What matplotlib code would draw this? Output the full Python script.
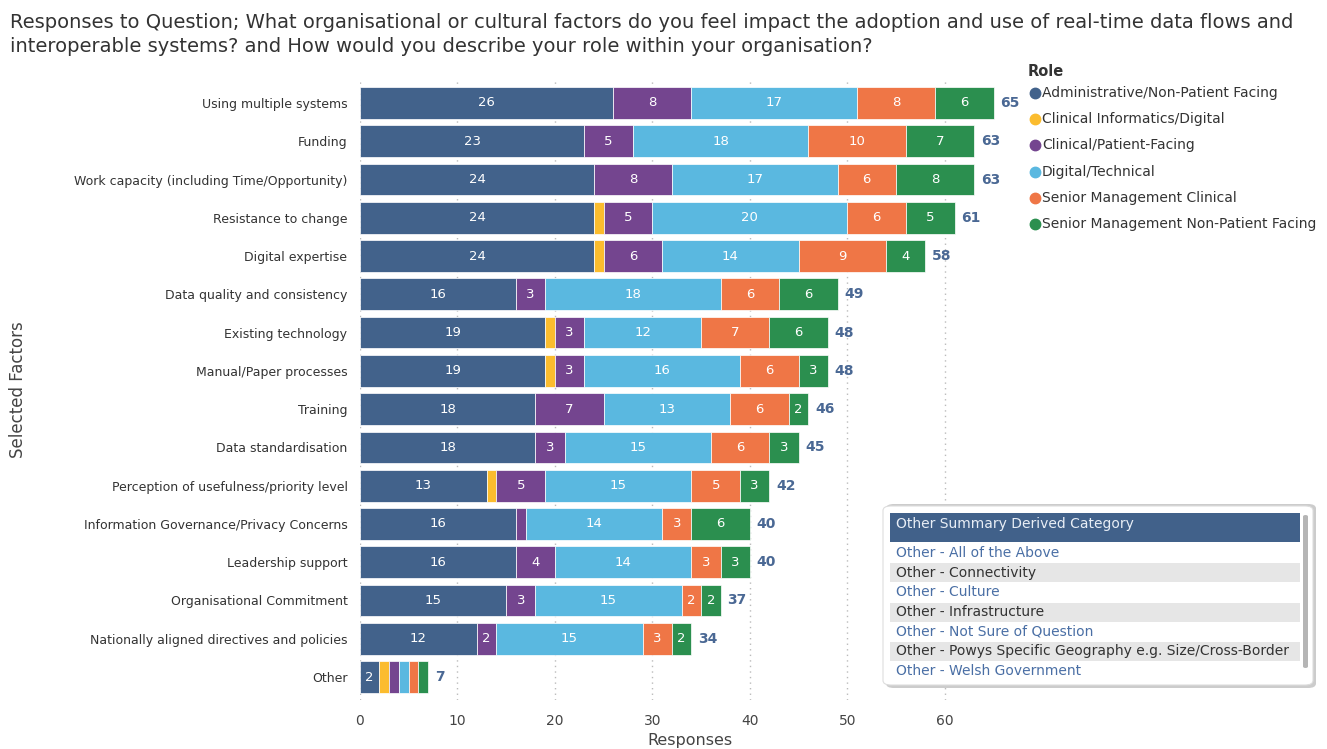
import numpy as np
import matplotlib
matplotlib.use('Agg')
import matplotlib.pyplot as plt
from matplotlib.patches import FancyBboxPatch, Rectangle
from matplotlib.lines import Line2D

plt.rcParams['font.family'] = ['DejaVu Sans']

# Data
factors = ['Using multiple systems', 'Funding', 'Work capacity (including Time/Opportunity)',
           'Resistance to change', 'Digital expertise', 'Data quality and consistency',
           'Existing technology', 'Manual/Paper processes', 'Training', 'Data standardisation',
           'Perception of usefulness/priority level', 'Information Governance/Privacy Concerns',
           'Leadership support', 'Organisational Commitment',
           'Nationally aligned directives and policies', 'Other']
roles = ['Administrative/Non-Patient Facing', 'Clinical Informatics/Digital',
         'Clinical/Patient-Facing', 'Digital/Technical', 'Senior Management Clinical',
         'Senior Management Non-Patient Facing']
admin = [26, 23, 24, 24, 24, 16, 19, 19, 18, 18, 13, 16, 16, 15, 12, 2]
clin_inf = [0, 0, 0, 1, 1, 0, 1, 1, 0, 0, 1, 0, 0, 0, 0, 1]
clin_pat = [8, 5, 8, 5, 6, 3, 3, 3, 7, 3, 5, 1, 4, 3, 2, 1]
digital = [17, 18, 17, 20, 14, 18, 12, 16, 13, 15, 15, 14, 14, 15, 15, 1]
senior_clin = [8, 10, 6, 6, 9, 6, 7, 6, 6, 6, 5, 3, 3, 2, 3, 1]
senior_np = [6, 7, 8, 5, 4, 6, 6, 3, 2, 3, 3, 6, 3, 2, 2, 1]
other_items = ['Other - All of the Above', 'Other - Connectivity', 'Other - Culture',
               'Other - Infrastructure', 'Other - Not Sure of Question',
               'Other - Powys Specific Geography e.g. Size/Cross-Border',
               'Other - Welsh Government']

colors = ['#42628B', '#FBBC2E', '#74458F', '#5AB8E0', '#EF7646', '#2B8F4F']
series = [admin, clin_inf, clin_pat, digital, senior_clin, senior_np]

W, H = 1327, 749
fig = plt.figure(figsize=(W / 100, H / 100), dpi=100)

def fx(px):
    return px / W

def fy(py):
    return 1 - py / H

ax = fig.add_axes([fx(360), fy(700), fx(1013) - fx(360), fy(80) - fy(700)])
y = np.arange(len(factors))
left = np.zeros(len(factors))
for vals, c in zip(series, colors):
    vals = np.array(vals)
    ax.barh(y, vals, left=left, color=c, height=0.83, edgecolor='white', linewidth=0.5, zorder=3)
    for yi, (l, v) in enumerate(zip(left, vals)):
        if v >= 2:
            ax.text(l + v / 2, yi, str(v), ha='center', va='center', color='white', fontsize=9.5, zorder=4)
    left = left + vals

# totals at the end of each bar
for yi, t in enumerate(left):
    ax.text(t + 0.7, yi, str(int(t)), ha='left', va='center', color='#4A6894',
            fontsize=10, fontweight='bold', zorder=4)

ax.set_ylim(len(factors) - 0.4, -0.6)
ax.set_xlim(0, 67)
ax.set_xticks(range(0, 70, 10))
ax.set_yticks(y)
ax.set_yticklabels(factors, fontsize=9, color='#333333')
ax.tick_params(axis='both', length=0, pad=9)
ax.tick_params(axis='x', labelsize=10, colors='#444444', pad=10)
for s in ax.spines.values():
    s.set_visible(False)
ax.grid(axis='x', linestyle=(0, (1, 3)), color='#BBBBBB', linewidth=1, zorder=0)
fig.text(fx(690), fy(740), 'Responses', ha='center', va='center', fontsize=11.5, color='#444444')
fig.text(fx(18), fy(390), 'Selected Factors', rotation=90, ha='center', va='center',
         fontsize=12, color='#444444')

# Title
fig.text(fx(10), fy(22), 'Responses to Question; What organisational or cultural factors do you feel impact the adoption and use of real-time data flows and',
         fontsize=14, color='#333333', va='center', ha='left')
fig.text(fx(10), fy(47), 'interoperable systems? and How would you describe your role within your organisation?',
         fontsize=14, color='#333333', va='center', ha='left')

# Role legend
fig.text(fx(1028), fy(72), 'Role', fontsize=10.5, fontweight='bold', color='#333333', va='center')
for i, (r, c) in enumerate(zip(roles, colors)):
    yy = 93 + i * 26.2
    fig.add_artist(Line2D([fx(1035)], [fy(yy)], marker='o', markersize=7.5, color=c,
                          linestyle='none', transform=fig.transFigure))
    fig.text(fx(1042), fy(yy), r, fontsize=10, color='#333333', va='center', ha='left')

# Other filter box
fig.add_artist(FancyBboxPatch((fx(886), fy(688)), fx(1316) - fx(886), fy(504) - fy(688),
                              boxstyle='round,pad=0,rounding_size=0.006', facecolor='#CCCCCC',
                              edgecolor='none', transform=fig.transFigure, zorder=1))
fig.add_artist(FancyBboxPatch((fx(883), fy(685)), fx(1313) - fx(883), fy(506) - fy(685),
                              boxstyle='round,pad=0,rounding_size=0.006', facecolor='white',
                              edgecolor='#DDDDDD', linewidth=0.8, transform=fig.transFigure, zorder=2))
fig.add_artist(Rectangle((fx(890), fy(542)), fx(1300) - fx(890), fy(513) - fy(542),
                         facecolor='#41618A', edgecolor='none', transform=fig.transFigure, zorder=3))
fig.text(fx(896), fy(524), 'Other Summary Derived Category', fontsize=10, color='#E8EEF6',
         va='center', ha='left', zorder=4)
for i, item in enumerate(other_items):
    yy = 553 + i * 19.7
    if i % 2 == 1:
        fig.add_artist(Rectangle((fx(890), fy(yy + 9.5)), fx(1300) - fx(890), 19 / H,
                                 facecolor='#E6E6E6', edgecolor='none',
                                 transform=fig.transFigure, zorder=3))
        col = '#333333'
    else:
        col = '#4A6FA5'
    fig.text(fx(896), fy(yy), item, fontsize=10, color=col, va='center', ha='left', zorder=4)
fig.add_artist(FancyBboxPatch((fx(1303), fy(668)), fx(1308) - fx(1303), fy(515) - fy(668),
                              boxstyle='round,pad=0,rounding_size=0.002', facecolor='#B5B5B5',
                              edgecolor='none', transform=fig.transFigure, zorder=3))

fig.savefig('out.png', dpi=100, facecolor='white')
